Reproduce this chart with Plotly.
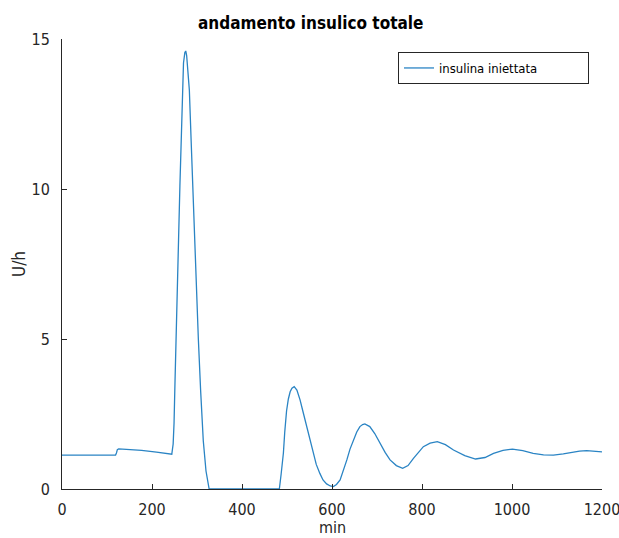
import plotly.graph_objects as go

# Insulin delivery over time (U/h vs minutes)
minutes = [0, 60, 119, 121, 123, 126, 150, 177, 210, 240, 244, 247, 249, 251, 253,
           256, 259, 262, 264, 266, 268, 270, 273, 275, 277, 280, 283, 287, 292, 297,
           303, 308, 314, 320, 325, 327, 400, 483, 487, 492, 495, 499, 503, 507, 511,
           516, 522, 529, 536, 544, 551, 558, 565, 573, 580, 588, 596, 603, 610, 618,
           625, 633, 640, 647, 655, 662, 668, 673, 678, 684, 695, 707, 718, 729, 743,
           757, 769, 781, 792, 803, 818, 834, 852, 870, 895, 919, 940, 959, 980, 1001,
           1024, 1047, 1070, 1092, 1114, 1136, 1150, 1166, 1183, 1200]
insulin = [1.13, 1.13, 1.13, 1.2, 1.31, 1.34, 1.32, 1.29, 1.23, 1.17, 1.16, 1.5, 2.2, 3.5, 5.0,
           6.6, 8.3, 10.1, 11.3, 12.6, 13.6, 14.2, 14.55, 14.6, 14.45, 14.0, 13.3, 11.6, 9.4, 7.6,
           5.0, 3.3, 1.6, 0.6, 0.05, 0.0, 0.0, 0.0, 0.5, 1.2, 1.9, 2.6, 3.0, 3.24, 3.36,
           3.41, 3.3, 2.97, 2.55, 2.08, 1.62, 1.19, 0.82, 0.52, 0.3, 0.17, 0.1, 0.08, 0.15, 0.3,
           0.6, 0.97, 1.33, 1.63, 1.9, 2.08, 2.15, 2.17, 2.14, 2.08, 1.85, 1.52, 1.22, 0.97, 0.78,
           0.69, 0.78, 1.02, 1.23, 1.41, 1.53, 1.58, 1.48, 1.30, 1.11, 1.0, 1.05, 1.19, 1.29, 1.33,
           1.28, 1.19, 1.14, 1.13, 1.17, 1.24, 1.26, 1.28, 1.27, 1.24]

x_ticks = [0, 200, 400, 600, 800, 1000, 1200]
y_ticks = [0, 5, 10, 15]

FONT = "Liberation Sans Narrow, DejaVu Sans Condensed, Liberation Sans, Arial, sans-serif"
AXIS_COLOR = "#262626"
LINE_COLOR = "#2a84c4"

W, H = 619, 538
ML, MR, MT, MB = 62, 17, 39, 49
PLOT_W, PLOT_H = W - ML - MR, H - MT - MB


def px_to_paper_x(px):
    return (px - ML) / PLOT_W


def px_to_paper_y(py):
    return (H - MB - py) / PLOT_H


fig = go.Figure()
fig.add_trace(go.Scatter(
    x=minutes, y=insulin, mode="lines",
    name="insulina iniettata",
    line=dict(color=LINE_COLOR, width=1.3),
))

fig.update_layout(
    width=W, height=H,
    margin=dict(l=ML, r=MR, t=MT, b=MB, autoexpand=False),
    paper_bgcolor="white", plot_bgcolor="white",
    font=dict(family=FONT, size=16, color=AXIS_COLOR),
    title=dict(text="<b>andamento insulico totale</b>", x=0.502, xanchor="center",
               y=1 - 23 / H, yanchor="middle",
               font=dict(family=FONT, size=17, color="#000000")),
    showlegend=True,
    legend=dict(x=px_to_paper_x(589), y=px_to_paper_y(52), xanchor="right", yanchor="top",
                orientation="h", entrywidth=144,
                bgcolor="white", bordercolor=AXIS_COLOR, borderwidth=1,
                font=dict(family=FONT, size=13, color="#000000"),
                itemwidth=30, tracegroupgap=0),
    xaxis=dict(range=[0, 1200], tickvals=x_ticks, ticktext=[str(v) for v in x_ticks],
               showgrid=False, zeroline=False, showline=True, linecolor=AXIS_COLOR,
               linewidth=1, ticks="inside", ticklen=5, tickcolor=AXIS_COLOR,
               ticklabelstandoff=6, ticklabeloverflow="allow", automargin=False,
               tickfont=dict(size=16)),
    yaxis=dict(range=[0, 15], tickvals=y_ticks, ticktext=[str(v) for v in y_ticks],
               showgrid=False, zeroline=False, showline=True, linecolor=AXIS_COLOR,
               linewidth=1, ticks="inside", ticklen=5, tickcolor=AXIS_COLOR,
               ticklabelstandoff=8, ticklabeloverflow="allow", automargin=False,
               tickfont=dict(size=16)),
    annotations=[
        dict(text="min", xref="paper", yref="paper", x=0.5, y=px_to_paper_y(527),
             xanchor="center", yanchor="middle", showarrow=False,
             font=dict(family=FONT, size=16, color=AXIS_COLOR)),
        dict(text="U/h", xref="paper", yref="paper", x=px_to_paper_x(19), y=0.5,
             xanchor="center", yanchor="middle", textangle=-90, showarrow=False,
             font=dict(family=FONT, size=17, color=AXIS_COLOR)),
    ],
)

fig.write_html("out.html")
